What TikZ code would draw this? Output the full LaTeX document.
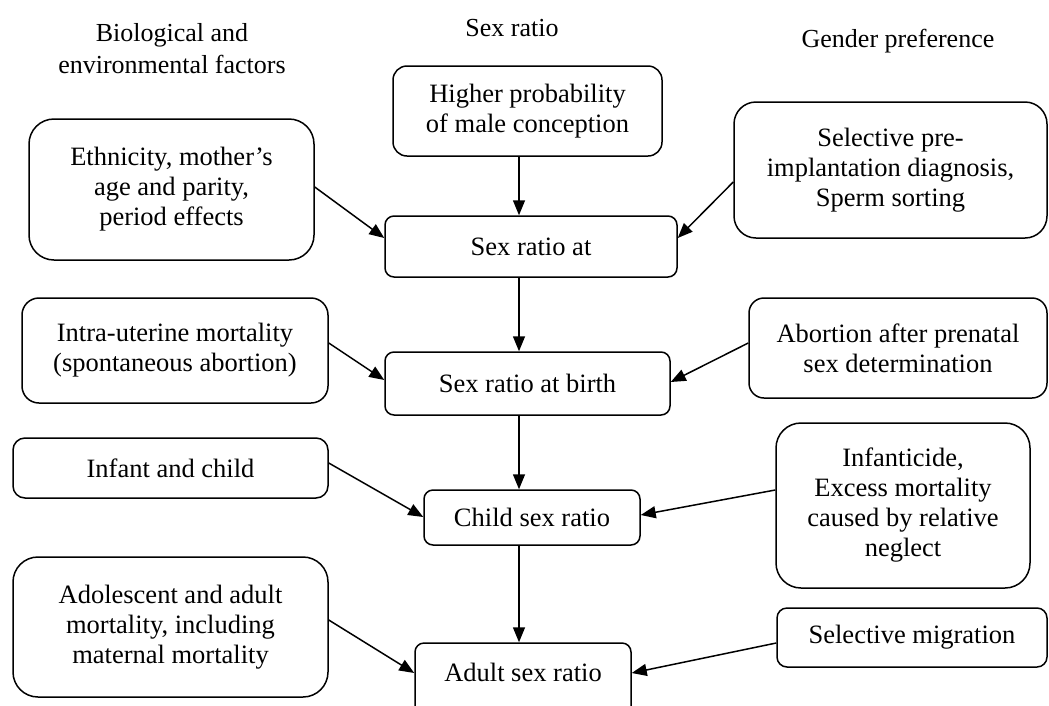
\documentclass[tikz,border=0pt]{standalone}
\usepackage{fontspec}
\setmainfont{Liberation Serif}
\usetikzlibrary{arrows.meta,calc}
\begin{document}
\begin{tikzpicture}[x=1pt,y=-1pt,
  hdr/.style={align=center,font=\fontsize{26}{32}\selectfont,inner sep=0pt},
  box/.style={draw,line width=1.5pt,rectangle,align=center,inner sep=0pt,
    font=\fontsize{26.5}{30}\selectfont},
  arr/.style={line width=1.5pt,-{Triangle[length=15pt,width=12pt]}}]
\useasboundingbox (0,0) rectangle (1049,705);
% headers
\node[hdr] (h1) at (172,49) {Biological and\\environmental factors};
\node[hdr] (h2) at (512,28) {Sex ratio};
\node[hdr] (h3) at (898,41) {Gender preference};
% central column
\node[box,rounded corners=14pt,minimum width=269pt,minimum height=90pt] (hp) at (527.5,111) {Higher probability\\of male conception};
\node[box,rounded corners=9pt,minimum width=292pt,minimum height=61pt] (sra) at (531,246.5) {Sex ratio at};
\node[box,rounded corners=9pt,minimum width=285pt,minimum height=63pt] (srb) at (527.5,383.5) {Sex ratio at birth};
\node[box,rounded corners=9pt,minimum width=216pt,minimum height=55pt] (csr) at (532,517.5) {Child sex ratio};
\node[box,rounded corners=9pt,minimum width=216pt,minimum height=76pt] (asr) at (523,681) {\raisebox{18pt}{Adult sex ratio}};
% left column
\node[box,rounded corners=25pt,minimum width=285pt,minimum height=141pt] (eth) at (171.5,189.5) {\raisebox{11pt}{\begin{tabular}{@{}c@{}}Ethnicity, mother’s\\age and parity,\\period effects\end{tabular}}};
\node[box,rounded corners=17pt,minimum width=306pt,minimum height=105pt] (iu) at (175,350.5) {Intra-uterine mortality\\(spontaneous abortion)};
\node[box,rounded corners=12pt,minimum width=315pt,minimum height=60pt] (inf) at (170.5,468) {Infant and child};
\node[box,rounded corners=25pt,minimum width=315pt,minimum height=140pt] (ado) at (170.5,627) {Adolescent and adult\\mortality, including\\maternal mortality};
% right column
\node[box,rounded corners=22pt,minimum width=313pt,minimum height=136pt] (spi) at (890.5,170) {Selective pre-\\implantation diagnosis,\\Sperm sorting};
\node[box,rounded corners=15pt,minimum width=298pt,minimum height=100pt] (abo) at (898,348) {Abortion after prenatal\\sex determination};
\node[box,rounded corners=25pt,minimum width=254pt,minimum height=165pt] (ific) at (903,505.5) {Infanticide,\\Excess mortality\\caused by relative\\neglect};
\node[box,rounded corners=10pt,minimum width=270pt,minimum height=59pt] (mig) at (912,637.5) {Selective migration};
% connectors
\coordinate (col) at (519,0);
\draw[arr] (hp.south -| col) -- (sra.north -| col);
\draw[arr] (sra.south -| col) -- (srb.north -| col);
\draw[arr] (srb.south -| col) -- (csr.north -| col);
\draw[arr] (csr.south -| col) -- (asr.north -| col);
\draw[arr] ($(eth.east)+(0,-2.5)$) -- ($(sra.west)+(0,-8.5)$);
\draw[arr] ($(spi.west)+(0,12)$) -- ($(sra.east)+(0,-8.5)$);
\draw[arr] ($(iu.east)+(0,-7.5)$) -- ($(srb.west)+(0,-3.5)$);
\draw[arr] ($(abo.west)+(0,-5)$) -- ($(srb.east)+(0,-1.5)$);
\draw[arr] ($(inf.east)+(0,-5)$) -- ($(csr.west)+(0,-0.5)$);
\draw[arr] ($(ific.west)+(0,-15.5)$) -- ($(csr.east)+(0,-2.5)$);
\draw[arr] ($(ado.east)+(0,-7)$) -- ($(asr.west)+(0,-8)$);
\draw[arr] ($(mig.west)+(0,5.5)$) -- ($(asr.east)+(0,-8)$);
\end{tikzpicture}
\end{document}
